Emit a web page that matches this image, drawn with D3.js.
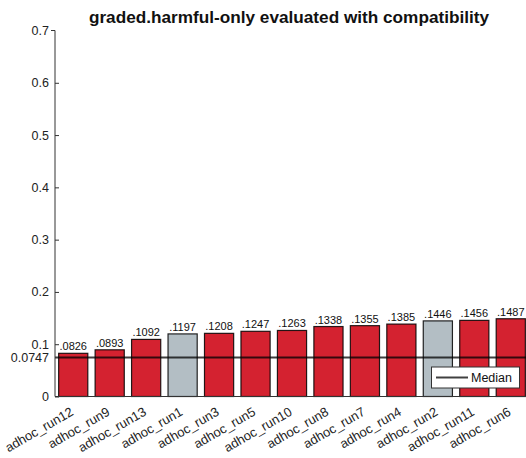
<!DOCTYPE html>
<html><head><meta charset="utf-8">
<script src="https://cdn.jsdelivr.net/npm/d3@7"></script>
<style>body{margin:0;background:#fff}svg{display:block}text{font-family:"Liberation Sans",Arial,sans-serif}</style>
</head><body><svg id="c" width="526" height="458"></svg>
<script>
const categories = ["adhoc_run12","adhoc_run9","adhoc_run13","adhoc_run1","adhoc_run3","adhoc_run5","adhoc_run10","adhoc_run8","adhoc_run7","adhoc_run4","adhoc_run2","adhoc_run11","adhoc_run6"];
const values = [0.0826,0.0893,0.1092,0.1197,0.1208,0.1247,0.1263,0.1338,0.1355,0.1385,0.1446,0.1456,0.1487];
const valueLabels = [".0826",".0893",".1092",".1197",".1208",".1247",".1263",".1338",".1355",".1385",".1446",".1456",".1487"];
const highlighted = ["adhoc_run1","adhoc_run2"];
const yTicks = [0,0.1,0.2,0.3,0.4,0.5,0.6,0.7];
const median = 0.0747;
const title = "graded.harmful-only evaluated with compatibility";

const svg = d3.select("#c");
const x = d3.scaleBand().domain(categories).range([55,529]).paddingInner(0.2).paddingOuter(0.1);
const y = d3.scaleLinear().domain([0,0.7]).range([396.5,30.5]);

// bars
svg.append("g").selectAll("rect").data(categories).join("rect")
  .attr("x", d=>x(d)).attr("width", x.bandwidth())
  .attr("y", (d,i)=>y(values[i])).attr("height",(d,i)=>y(0)-y(values[i]))
  .attr("fill", d=>highlighted.includes(d)?"#b3bec4":"#d42230")
  .attr("stroke","#000").attr("stroke-opacity",0.85).attr("stroke-width",1.2);

// value labels
svg.append("g").selectAll("text").data(categories).join("text")
  .attr("x", d=>x(d)+x.bandwidth()/2).attr("y",(d,i)=>y(values[i])-3)
  .attr("text-anchor","middle").attr("font-size","11px").attr("fill","#111")
  .text((d,i)=>valueLabels[i]);

// median line
svg.append("line").attr("x1",55).attr("x2",526).attr("y1",y(median)).attr("y2",y(median))
  .attr("stroke","#000").attr("stroke-opacity",0.75).attr("stroke-width",2);

// y axis
const ya = svg.append("g").attr("transform","translate(55,0)")
  .call(d3.axisLeft(y).tickValues(yTicks.concat([median])).tickSize(-4).tickPadding(6)
    .tickFormat(d=> d===median ? "0.0747" : (d===0?"0":d3.format(".1f")(d))));
ya.select(".domain").attr("stroke","#333").attr("d","M-4,"+y(0.7)+"H0V"+y(0));
ya.selectAll(".tick line").attr("stroke","#333");
ya.selectAll(".tick text").attr("font-size","12.5px").attr("fill","#222").attr("font-family","Liberation Sans, Arial, sans-serif");
ya.selectAll(".tick").filter(d=>d===median).select("line").remove();
ya.selectAll(".tick").filter(d=>d===0.7).select("line").attr("x2",0);

// x axis line
svg.append("line").attr("x1",55).attr("x2",526).attr("y1",y(0)).attr("y2",y(0)).attr("stroke","#333").attr("stroke-width",1);

// x labels
svg.append("g").selectAll("text").data(categories).join("text")
  .attr("transform", d=>`translate(${x(d)+x.bandwidth()/2+1},${y(0)+18}) rotate(-30)`)
  .attr("text-anchor","end").attr("font-size","13px").attr("fill","#222")
  .text(d=>d);

// title
svg.append("text").attr("x",289).attr("y",23).attr("text-anchor","middle")
  .attr("font-size","17.2px").attr("font-weight","bold").attr("fill","#111").text(title);

// legend
const lg = svg.append("g");
lg.append("rect").attr("x",431.5).attr("y",367).attr("width",88).attr("height",21)
  .attr("fill","#fff").attr("stroke","#333").attr("stroke-width",1);
lg.append("line").attr("x1",436).attr("x2",468).attr("y1",377.5).attr("y2",377.5)
  .attr("stroke","#000").attr("stroke-opacity",0.75).attr("stroke-width",2);
lg.append("text").attr("x",471).attr("y",382).attr("font-size","12.5px").attr("fill","#111").text("Median");
</script></body></html>
